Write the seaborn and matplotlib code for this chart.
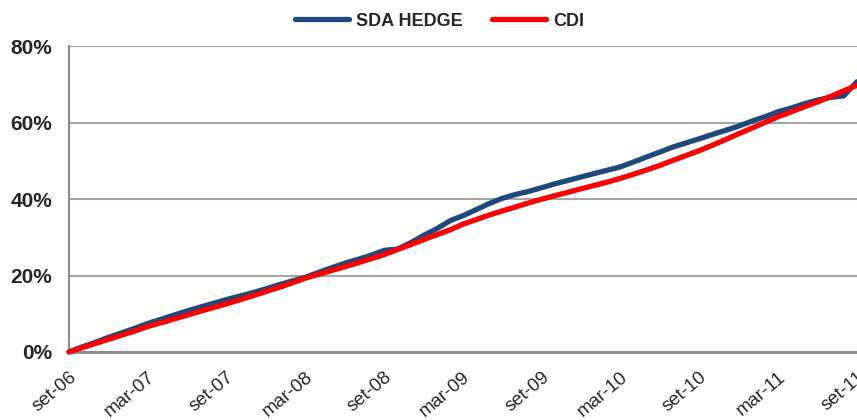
import pandas as pd
import matplotlib.pyplot as plt
import matplotlib.ticker as mtick
import seaborn as sns

# monthly cumulative return (%), set-06 .. set-11
months = pd.date_range("2006-09-01", "2011-09-01", freq="MS")
sda_hedge = [0.0,
             1.3, 2.5, 3.8, 5.0, 6.2, 7.4,
             8.5, 9.6, 10.7, 11.7, 12.7, 13.7,
             14.6, 15.5, 16.5, 17.6, 18.6, 19.5,
             20.8, 22.0, 23.2, 24.2, 25.3, 26.6,
             26.9, 28.6, 30.5, 32.3, 34.4, 35.6,
             37.2, 38.8, 40.2, 41.2, 42.0, 43.0,
             44.0, 44.9, 45.8, 46.7, 47.6, 48.4,
             49.7, 51.0, 52.3, 53.6, 54.7, 55.8,
             56.9, 58.0, 59.1, 60.4, 61.6, 62.8,
             63.8, 64.9, 65.9, 66.6, 67.0, 70.7]
cdi = [0.0,
       1.1, 2.2, 3.3, 4.4, 5.5, 6.6,
       7.6, 8.6, 9.6, 10.6, 11.6, 12.6,
       13.6, 14.7, 15.8, 16.9, 18.1, 19.3,
       20.3, 21.3, 22.3, 23.3, 24.4, 25.5,
       26.8, 28.1, 29.4, 30.7, 32.0, 33.4,
       34.6, 35.8, 36.9, 37.9, 39.0, 40.0,
       40.9, 41.8, 42.7, 43.6, 44.5, 45.4,
       46.5, 47.6, 48.8, 50.1, 51.4, 52.7,
       54.1, 55.6, 57.1, 58.6, 60.1, 61.5,
       62.8, 64.1, 65.4, 66.8, 68.3, 69.8]
tick_labels = ["set-06", "mar-07", "set-07", "mar-08", "set-08", "mar-09",
               "set-09", "mar-10", "set-10", "mar-11", "set-11"]

df = pd.DataFrame({"Data": months, "SDA HEDGE": sda_hedge, "CDI": cdi})
long = df.melt(id_vars="Data", var_name="Serie", value_name="Retorno")

sns.set_style("white")
plt.rcParams["font.family"] = ["Liberation Sans", "DejaVu Sans"]

fig = plt.figure(figsize=(8.57, 4.2), dpi=100)
ax = fig.add_axes([0.0805, 0.162, 0.9195, 0.728])

sns.lineplot(data=long, x="Data", y="Retorno", hue="Serie",
             palette={"SDA HEDGE": "#1F497D", "CDI": "#FF0000"},
             linewidth=3.8, ax=ax, clip_on=False, zorder=3)

ax.set_xlim(months[0], months[-1])
ax.set_ylim(0, 80)
ax.set_yticks([0, 20, 40, 60, 80])
ax.yaxis.set_major_formatter(mtick.PercentFormatter(decimals=0))
ax.set_xticks(months[::6])
ax.set_xticklabels(tick_labels, rotation=40, ha="right", rotation_mode="anchor",
                   fontsize=13.5)
for lbl in ax.get_yticklabels():
    lbl.set_fontweight("bold")
    lbl.set_fontsize(15)
ax.set_xlabel("")
ax.set_ylabel("")

ax.yaxis.grid(True, color="#A6A6A6", linewidth=1.5)
ax.xaxis.grid(False)
ax.set_axisbelow(True)
for side in ["top", "right"]:
    ax.spines[side].set_visible(False)
ax.spines["left"].set_color("#8C8C8C")
ax.spines["left"].set_linewidth(1.5)
ax.spines["bottom"].set_color("#8C8C8C")
ax.spines["bottom"].set_linewidth(2)
ax.tick_params(axis="x", direction="out", length=5, width=1.5, color="#8C8C8C", pad=7)
ax.tick_params(axis="y", direction="out", length=6, width=1.5, color="#A6A6A6", pad=6)

ax.legend(loc="lower center", bbox_to_anchor=(0.47, 1.03), ncol=2, frameon=False,
          prop={"weight": "bold", "size": 13}, handlelength=3.0, columnspacing=1.6,
          handletextpad=0.4, borderaxespad=0)

fig.savefig("out.png", dpi=100)
